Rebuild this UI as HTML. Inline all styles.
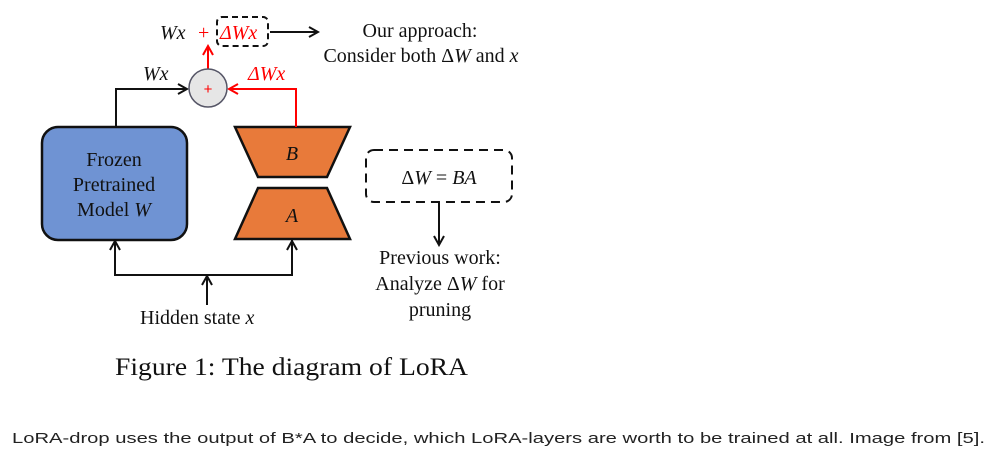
<!DOCTYPE html>
<html><head><meta charset="utf-8"><style>
html,body{margin:0;padding:0;background:#fff}
svg{display:block}
.s{font-family:"Liberation Serif",serif;font-size:20px;fill:#111}
.i{font-style:italic}
</style></head><body>
<svg width="991" height="454" viewBox="0 0 991 454" xmlns="http://www.w3.org/2000/svg">
<defs>
<marker id="ab" markerWidth="12" markerHeight="12" refX="10" refY="6" orient="auto" markerUnits="userSpaceOnUse"><path d="M1,1 L10,6 L1,11" fill="none" stroke="#111" stroke-width="2"/></marker>
<marker id="ar" markerWidth="12" markerHeight="12" refX="10" refY="6" orient="auto" markerUnits="userSpaceOnUse"><path d="M1,1 L10,6 L1,11" fill="none" stroke="#f00" stroke-width="2"/></marker>
</defs>
<!-- blue box -->
<rect x="42" y="127" width="145" height="113" rx="16" fill="#6f93d3" stroke="#111" stroke-width="2.5"/>
<text class="s" x="114" y="166" text-anchor="middle">Frozen</text>
<text class="s" x="114" y="191" text-anchor="middle">Pretrained</text>
<text class="s" x="114" y="216" text-anchor="middle">Model <tspan class="i">W</tspan></text>
<!-- trapezoids -->
<polygon points="235,127 350,127 327,177 258,177" fill="#e87a3a" stroke="#111" stroke-width="2.5"/>
<text class="s i" x="292" y="160" text-anchor="middle">B</text>
<polygon points="258,188 327,188 350,239 235,239" fill="#e87a3a" stroke="#111" stroke-width="2.5"/>
<text class="s i" x="292" y="222" text-anchor="middle">A</text>
<!-- black path to circle -->
<polyline points="116,127 116,89 187,89" fill="none" stroke="#111" stroke-width="2" marker-end="url(#ab)"/>
<!-- red path -->
<polyline points="296,127 296,89 229,89" fill="none" stroke="#f00" stroke-width="2" marker-end="url(#ar)"/>
<line x1="208" y1="69" x2="208" y2="46" stroke="#f00" stroke-width="2" marker-end="url(#ar)"/>
<circle cx="208" cy="88" r="19" fill="#e6e6e6" stroke="#556" stroke-width="1.5"/>
<text x="208" y="94" text-anchor="middle" font-family="Liberation Sans,sans-serif" font-size="15" fill="#f00">+</text>
<text class="s i" x="143" y="80">Wx</text>
<text class="s i" x="248" y="80" fill="#f00" style="fill:#f00">ΔWx</text>
<!-- top -->
<text class="s i" x="160" y="39">Wx</text>
<text class="s" x="198" y="39" style="fill:#f00">+</text>
<rect x="217" y="17" width="51" height="29" rx="5" fill="none" stroke="#111" stroke-width="2" stroke-dasharray="6,4"/>
<text class="s i" x="220" y="39" style="fill:#f00">ΔWx</text>
<line x1="270" y1="32" x2="318" y2="32" stroke="#111" stroke-width="2" marker-end="url(#ab)"/>
<text class="s" x="420" y="37" text-anchor="middle">Our approach:</text>
<text class="s" x="421" y="62" text-anchor="middle">Consider both Δ<tspan class="i">W</tspan> and <tspan class="i">x</tspan></text>
<!-- dashed BA -->
<rect x="366" y="150" width="146" height="52" rx="8" fill="none" stroke="#111" stroke-width="2" stroke-dasharray="9,6"/>
<text class="s" x="439" y="184" text-anchor="middle">Δ<tspan class="i">W</tspan>  =  <tspan class="i">BA</tspan></text>
<line x1="439" y1="202" x2="439" y2="245" stroke="#111" stroke-width="2" marker-end="url(#ab)"/>
<text class="s" x="440" y="264" text-anchor="middle">Previous work:</text>
<text class="s" x="440" y="290" text-anchor="middle">Analyze Δ<tspan class="i">W</tspan> for</text>
<text class="s" x="440" y="316" text-anchor="middle">pruning</text>
<!-- bottom arrows -->
<polyline points="115,240 115,275 292,275 292,240" fill="none" stroke="#111" stroke-width="2"/>
<line x1="115" y1="265" x2="115" y2="241" stroke="#111" stroke-width="2" marker-end="url(#ab)"/>
<line x1="292" y1="265" x2="292" y2="241" stroke="#111" stroke-width="2" marker-end="url(#ab)"/>
<line x1="207" y1="305" x2="207" y2="276" stroke="#111" stroke-width="2" marker-end="url(#ab)"/>
<text class="s" x="140" y="324">Hidden state  <tspan class="i">x</tspan></text>
<!-- caption -->
<text x="115" y="375" font-family="Liberation Serif,serif" font-size="25" fill="#111" textLength="353" lengthAdjust="spacingAndGlyphs">Figure 1: The diagram of LoRA</text>
<text x="12" y="443" font-family="Liberation Sans,sans-serif" font-size="15" fill="#222" textLength="973" lengthAdjust="spacingAndGlyphs">LoRA-drop uses the output of B*A to decide, which LoRA-layers are worth to be trained at all. Image from [5].</text>
</svg>
</body></html>
